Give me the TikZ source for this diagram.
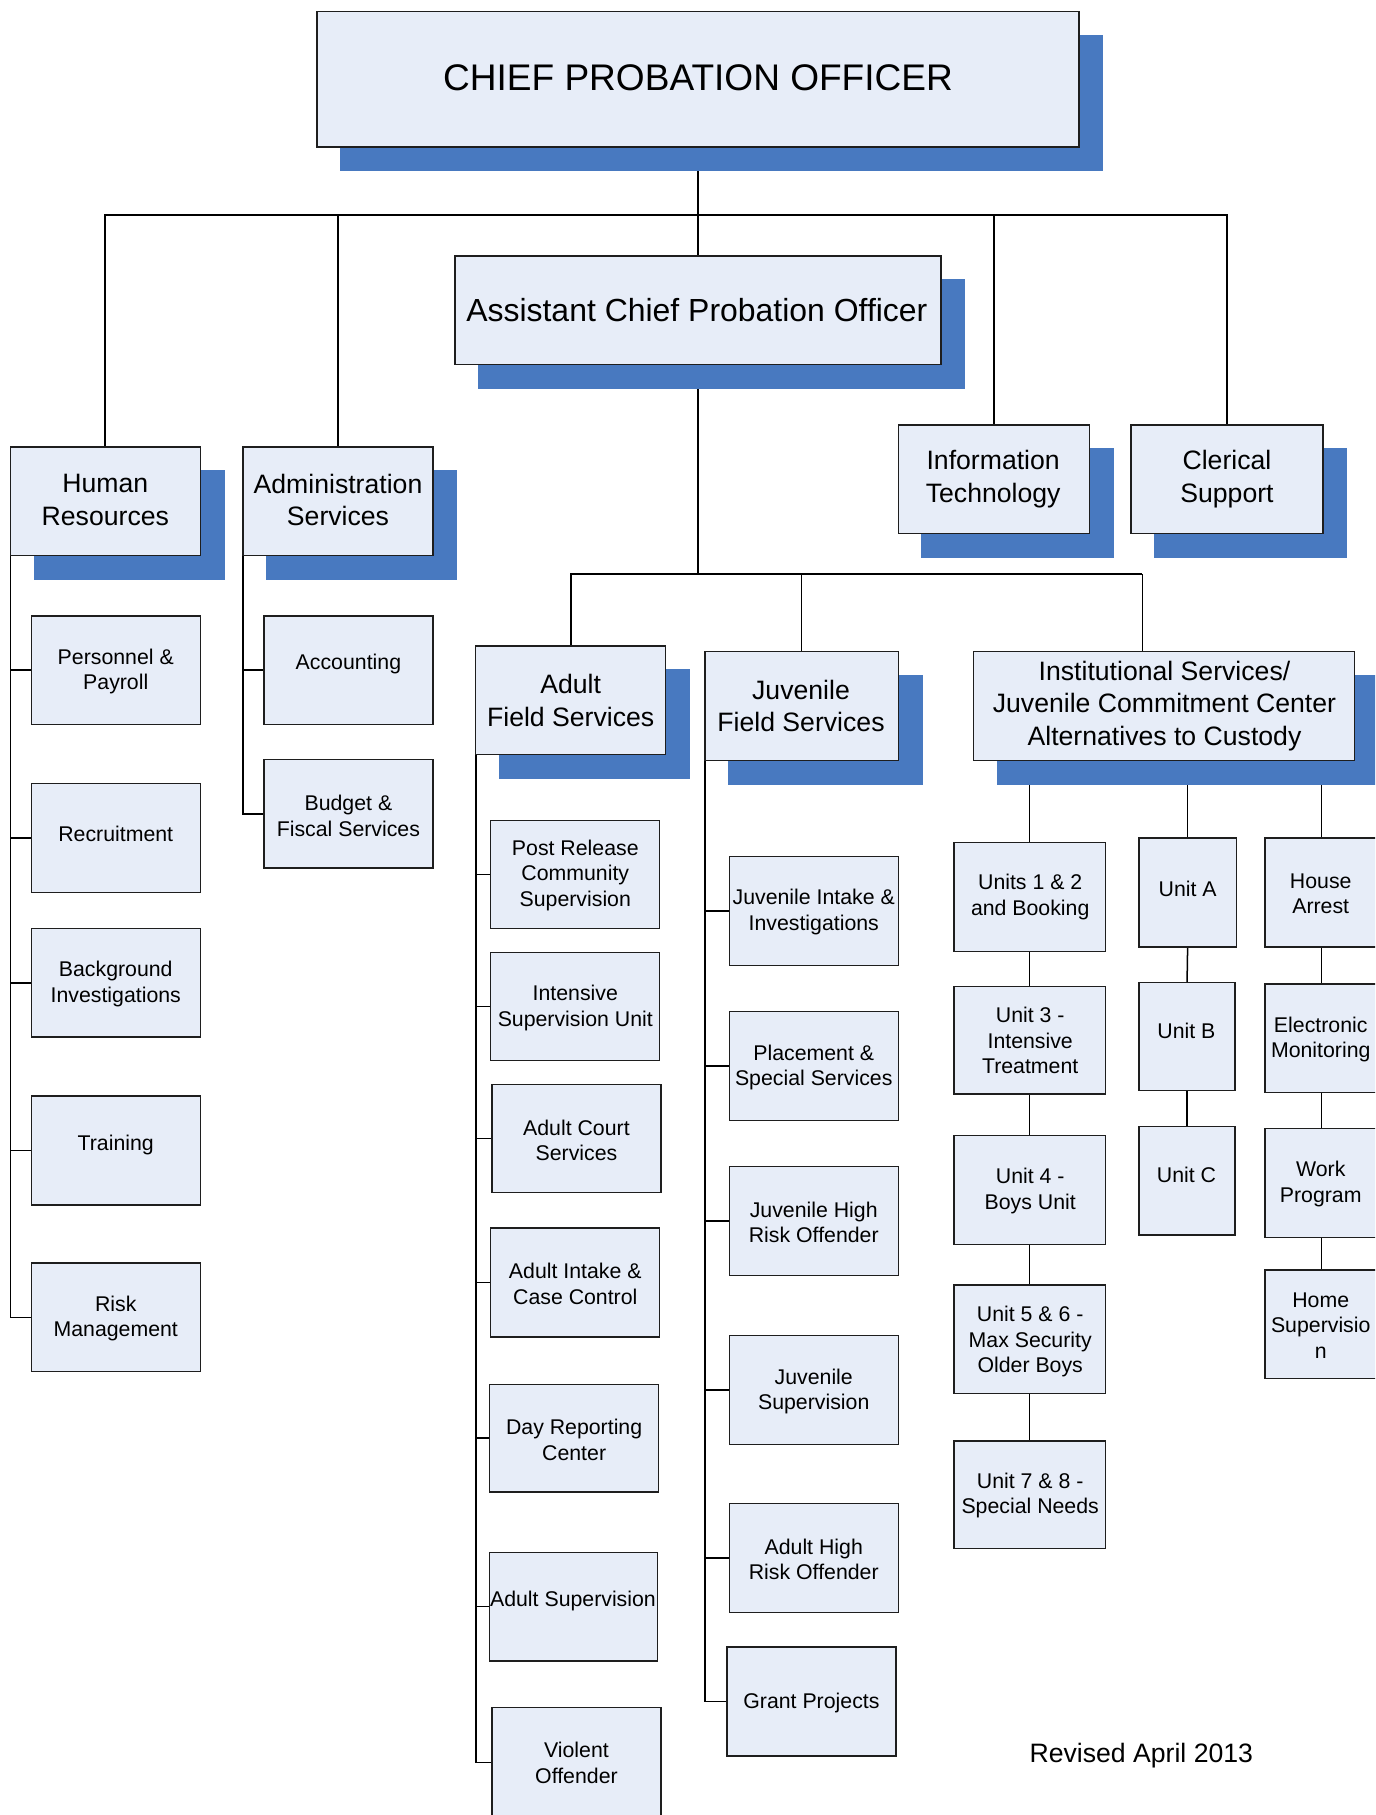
\documentclass[tikz,border=0pt]{standalone}
\usepackage{fontspec}
\setmainfont{Liberation Sans}
\usetikzlibrary{backgrounds}
\definecolor{boxfill}{RGB}{231,237,248}
\definecolor{shadowc}{RGB}{72,121,192}
\definecolor{edgec}{RGB}{30,30,30}
\newcommand\plbox[5]{%
  \node[box, minimum width={(#4)-(#2)}, minimum height={(#5)-(#3)}] (#1) at ({((#2)+(#4))/2},{((#3)+(#5))/2}) {};}
\newcommand\shbox[5]{%
  \fill[shadowc] ({(#2)+20},{(#3)+20}) rectangle ({(#4)+21},{(#5)+21});
  \plbox{#1}{#2}{#3}{#4}{#5}}
\tikzset{
  box/.style={draw=edgec, fill=boxfill, line width=1.2pt, inner sep=0pt, outer sep=0pt},
  sm/.style={align=center, inner sep=0pt, yshift=-2pt, font=\fontsize{18.4}{22}\selectfont},
  md/.style={align=center, inner sep=0pt, font=\fontsize{23}{28}\selectfont},
  conn/.style={draw=black, line width=1.3pt},
  bus/.style={draw=black, line width=2pt},
}
\begin{document}
\begin{tikzpicture}[x=1pt,y=-1pt]
\useasboundingbox (0,0) rectangle (1188,1568);
\begin{pgfonlayer}{background}
  \fill[white] (0,0) rectangle (1188,1568);
\end{pgfonlayer}
\clip (0,0) rectangle (1188,1568);

% ---------- top level ----------
\shbox{chief}{274}{10}{932}{127}
\node[align=center, inner sep=0pt, font=\fontsize{32}{38}\selectfont] (t-chief) at (603,67) {CHIEF PROBATION OFFICER};
\shbox{acpo}{393}{221}{813}{315}
\node[align=center, inner sep=0pt, font=\fontsize{27.6}{33}\selectfont] (t-acpo) at (602,268) {Assistant Chief Probation Officer};

\shbox{hr}{9}{386}{173}{480}
\node[md] (t-hr) at (91,432) {Human\\Resources};
\shbox{adm}{210}{386}{374}{480}
\node[md] (t-adm) at (292,432) {Administration\\Services};
\shbox{it}{776}{367}{941}{461}
\node[md] (t-it) at (858,414) {Information\\Technology};
\shbox{cl}{977}{367}{1143}{461}
\node[md] (t-cl) at (1060,414) {Clerical\\Support};

\shbox{afs}{411}{558}{575}{652}
\node[md] (t-afs) at (493,605) {Adult\\Field Services};
\shbox{jfs}{609}{563}{776}{657}
\node[md] (t-jfs) at (692,610) {Juvenile\\Field Services};
\shbox{isj}{841}{563}{1170}{657}
\node[md] (t-isj) at (1006,610) {Institutional Services/\\Juvenile Commitment Center\\Alternatives to Custody};

% ---------- HR children ----------
\plbox{pp}{27}{532}{173}{626}   \node[sm] (t-pp) at (100,578) {Personnel \&\\Payroll};
\plbox{rec}{27}{677}{173}{771}  \node[sm] (t-rec) at (100,718) {Recruitment};
\plbox{bg}{27}{802}{173}{896}   \node[sm] (t-bg) at (100,848) {Background\\Investigations};
\plbox{trn}{27}{947}{173}{1041} \node[sm] (t-trn) at (100,987) {Training};
\plbox{risk}{27}{1091}{173}{1185} \node[sm] (t-risk) at (100,1137) {Risk\\Management};

% ---------- Admin children ----------
\plbox{acc}{228}{532}{374}{626} \node[sm] (t-acc) at (301,572) {Accounting};
\plbox{bud}{228}{656}{374}{750} \node[sm] (t-bud) at (301,703) {Budget \&\\Fiscal Services};

% ---------- AFS children ----------
\plbox{prc}{424}{709}{570}{802}   \node[sm] (t-prc) at (497,754) {Post Release\\Community\\Supervision};
\plbox{isu}{424}{823}{570}{916}   \node[sm] (t-isu) at (497,869) {Intensive\\Supervision Unit};
\plbox{acs}{425}{937}{571}{1030}  \node[sm] (t-acs) at (498,983) {Adult Court\\Services};
\plbox{aic}{424}{1061}{570}{1155} \node[sm] (t-aic) at (497,1107) {Adult Intake \&\\Case Control};
\plbox{drc}{423}{1196}{569}{1289} \node[sm] (t-drc) at (496,1242) {Day Reporting\\Center};
\plbox{asup}{423}{1341}{568}{1435} \node[sm] (t-asup) at (495,1381) {Adult Supervision};
\plbox{vo}{425}{1475}{571}{1570}  \node[sm] (t-vo) at (498,1521) {Violent\\Offender};

% ---------- JFS children ----------
\plbox{jii}{630}{740}{776}{834}   \node[sm] (t-jii) at (703,786) {Juvenile Intake \&\\Investigations};
\plbox{pss}{630}{874}{776}{968}   \node[sm] (t-pss) at (703,920) {Placement \&\\Special Services};
\plbox{jhr}{630}{1008}{776}{1102} \node[sm] (t-jhr) at (703,1054) {Juvenile High\\Risk Offender};
\plbox{jsup}{630}{1154}{776}{1248} \node[sm] (t-jsup) at (703,1200) {Juvenile\\Supervision};
\plbox{ahr}{630}{1299}{776}{1393} \node[sm] (t-ahr) at (703,1345) {Adult High\\Risk Offender};
\plbox{gp}{628}{1423}{774}{1517}  \node[sm] (t-gp) at (701,1469) {Grant Projects};

% ---------- ISJCC children ----------
\plbox{u12}{824}{728}{955}{822}   \node[sm] (t-u12) at (890,773) {Units 1 \& 2\\and Booking};
\plbox{u3}{824}{852}{955}{945}    \node[sm] (t-u3) at (890,897) {Unit 3 -\\Intensive\\Treatment};
\plbox{u4}{824}{981}{955}{1075}   \node[sm] (t-u4) at (890,1027) {Unit 4 -\\Boys Unit};
\plbox{u56}{824}{1110}{955}{1204} \node[sm] (t-u56) at (890,1157) {Unit 5 \& 6 -\\Max Security\\Older Boys};
\plbox{u78}{824}{1245}{955}{1338} \node[sm] (t-u78) at (890,1290) {Unit 7 \& 8 -\\Special Needs};

\plbox{ua}{984}{724}{1068}{818}   \node[sm] (t-ua) at (1026,766) {Unit A};
\plbox{ub}{984}{849}{1067}{942}   \node[sm] (t-ub) at (1025,889) {Unit B};
\plbox{uc}{984}{973}{1067}{1067}  \node[sm] (t-uc) at (1025,1013) {Unit C};

\plbox{ha}{1093}{724}{1190}{818}  \node[sm] (t-ha) at (1141,770) {House\\Arrest};
\plbox{em}{1093}{850}{1190}{944}  \node[sm] (t-em) at (1141,896) {Electronic\\Monitoring};
\plbox{wp}{1093}{975}{1190}{1069} \node[sm] (t-wp) at (1141,1021) {Work\\Program};
\plbox{hs}{1093}{1097}{1190}{1191} \node[sm] (t-hs) at (1141,1143) {Home\\Supervisio\\n};

\node[md] (rev) at (986,1517) {Revised April 2013};

% ---------- connectors ----------
\coordinate (busL) at (91,186);
\coordinate (busR) at (1060,186);
\coordinate (bus2L) at (493,496);
\coordinate (bus2R) at (987,496);
\begin{pgfonlayer}{background}
  \draw[conn] (chief.south) -- (acpo.north);
  \draw[bus] (hr.north) -- (busL) -- (busR) -- (cl.north);
  \draw[conn] (adm.north) -- (adm.north |- busL);
  \draw[conn] (it.north) -- (it.north |- busL);

  \draw[conn] (acpo.south) -- (acpo.south |- bus2L);
  \draw[bus] (afs.north) -- (bus2L) -- (bus2R);
  \draw[conn] (bus2R) -- (bus2R |- isj.north);
  \draw[conn] (jfs.north) -- (jfs.north |- bus2L);

  % HR branch
  \draw[conn] (hr.south west) |- (risk.west);
  \foreach \c in {pp,rec,bg,trn} \draw[conn] (\c.west) -- (\c.west -| hr.south west);
  % Admin branch
  \draw[conn] (adm.south west) |- (bud.west);
  \draw[conn] (acc.west) -- (acc.west -| adm.south west);
  % AFS branch
  \draw[conn] (afs.south west) |- (vo.west);
  \foreach \c in {prc,isu,acs,aic,drc,asup} \draw[conn] (\c.west) -- (\c.west -| afs.south west);
  % JFS branch
  \draw[conn] (jfs.south west) |- (gp.west);
  \foreach \c in {jii,pss,jhr,jsup,ahr} \draw[conn] (\c.west) -- (\c.west -| jfs.south west);
  % ISJCC branch
  \draw[conn] (u12.north) -- (u12.north |- isj.south);
  \draw[conn] (u12.south) -- (u3.north);
  \draw[conn] (u3.south) -- (u4.north);
  \draw[conn] (u4.south) -- (u56.north);
  \draw[conn] (u56.south) -- (u78.north);
  \draw[conn] (ua.north) -- (ua.north |- isj.south);
  \draw[conn] (ua.south) -- (ub.north);
  \draw[conn] (ub.south) -- (uc.north);
  \draw[conn] (ha.north) -- (ha.north |- isj.south);
  \draw[conn] (ha.south) -- (em.north);
  \draw[conn] (em.south) -- (wp.north);
  \draw[conn] (wp.south) -- (hs.north);
\end{pgfonlayer}
\end{tikzpicture}
\end{document}
